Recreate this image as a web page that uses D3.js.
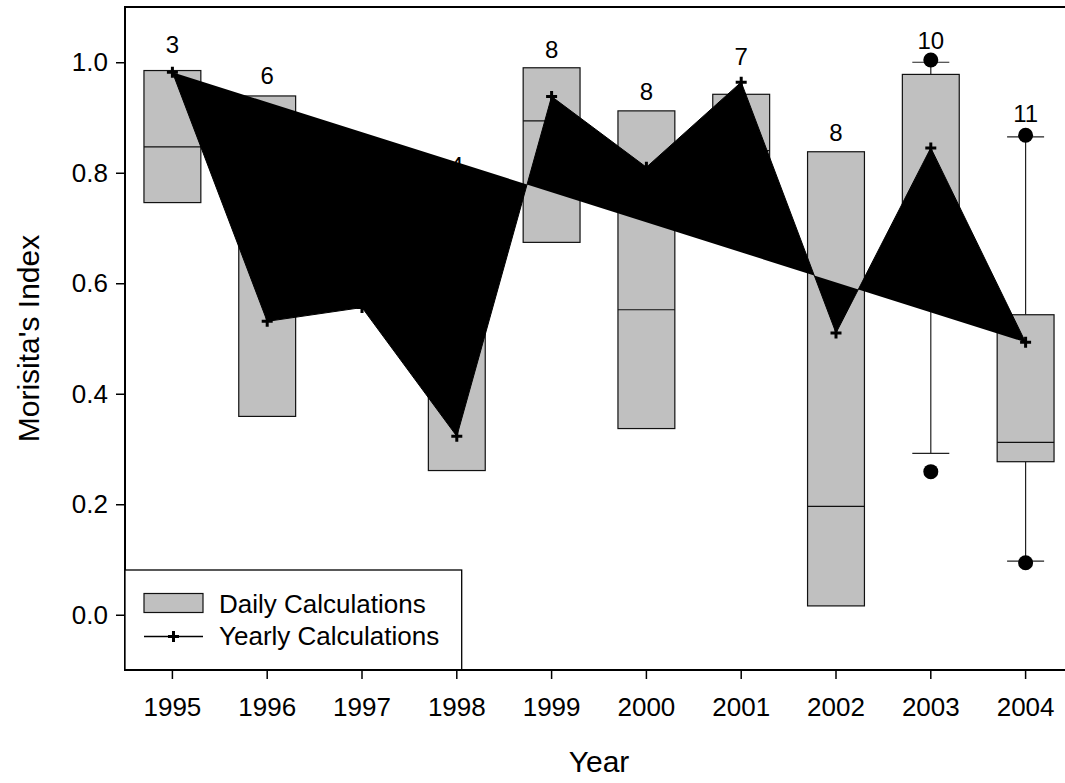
<!DOCTYPE html>
<html>
<head>
<meta charset="utf-8">
<script src="https://cdn.jsdelivr.net/npm/d3@7"></script>
<style>
  body { margin: 0; background: #fff; }
  svg { display: block; font-family: "Liberation Sans", Arial, sans-serif; }
</style>
</head>
<body>
<svg width="1065" height="783"></svg>
<script>
// daily box plot stats per year
let years = [1995, 1996, 1997, 1998, 1999, 2000, 2001, 2002, 2003, 2004];
let counts = [3, 6, 5, 4, 8, 8, 7, 8, 10, 11];
let q1 = [0.746, 0.359, 0.60, 0.261, 0.674, 0.337, 0.72, 0.016, 0.60, 0.277];
let medians = [0.847, 0.76, 0.70, 0.55, 0.894, 0.552, 0.84, 0.196, 0.70, 0.312];
let q3 = [0.985, 0.939, 0.79, 0.764, 0.99, 0.912, 0.942, 0.838, 0.978, 0.543];
let whiskLo = [null, null, null, null, null, null, null, null, 0.292, 0.097];
let whiskHi = [null, null, null, null, null, null, null, null, 1.0, 0.865];
let outliers = [[], [], [], [], [], [], [], [], [1.004, 0.259], [0.868, 0.094]];
let maxVals = [0.997, 0.94, 0.79, 0.777, 0.988, 0.912, 0.975, 0.838, 1.004, 0.872];

// yearly calculation
let yearly = [0.982, 0.531, 0.556, 0.323, 0.938, 0.81, 0.964, 0.51, 0.845, 0.493];

let yTicks = [0, 0.2, 0.4, 0.6, 0.8, 1.0];

let pLeft = 125, pRight = 1073, pTop = 7, pBottom = 670;

let svg = d3.select("svg");

let x = d3.scaleBand().domain(years).range([pLeft, pRight])
	.paddingInner(0.4).paddingOuter(0.2);
let y = d3.scaleLinear().domain([-0.1, 1.1]).range([pBottom, pTop]);

let data = years.map(function(yr, i) {
	return { year: yr, n: counts[i], q1: q1[i], med: medians[i], q3: q3[i],
		lo: whiskLo[i], hi: whiskHi[i], out: outliers[i], max: maxVals[i], yv: yearly[i] };
});

let bw = x.bandwidth();
let cx = function(d) { return x(d.year) + bw / 2; };

// frame
svg.append("rect")
	.attr("x", pLeft).attr("y", pTop)
	.attr("width", pRight - pLeft).attr("height", pBottom - pTop)
	.attr("fill", "none").attr("stroke", "#000").attr("stroke-width", 2);

// n labels
svg.append("g").selectAll("text")
	.data(data).enter().append("text")
	.attr("x", cx)
	.attr("y", function(d) { return y(d.max) - 11; })
	.attr("text-anchor", "middle")
	.attr("font-size", 24)
	.text(function(d) { return d.n; });

// whiskers
let wh = data.filter(function(d) { return d.lo !== null; });
let wg = svg.append("g").attr("stroke", "#222").attr("stroke-width", 1.2);
wh.forEach(function(d) {
	let c = cx(d);
	wg.append("line").attr("x1", c).attr("x2", c).attr("y1", y(d.q3)).attr("y2", y(d.hi));
	wg.append("line").attr("x1", c).attr("x2", c).attr("y1", y(d.q1)).attr("y2", y(d.lo));
	wg.append("line").attr("x1", c - 18.5).attr("x2", c + 18.5).attr("y1", y(d.hi)).attr("y2", y(d.hi));
	wg.append("line").attr("x1", c - 18.5).attr("x2", c + 18.5).attr("y1", y(d.lo)).attr("y2", y(d.lo));
});

// boxes
let boxes = svg.append("g").selectAll("g")
	.data(data).enter().append("g");

boxes.append("rect")
	.attr("x", function(d) { return x(d.year); })
	.attr("y", function(d) { return y(d.q3); })
	.attr("width", bw)
	.attr("height", function(d) { return y(d.q1) - y(d.q3); })
	.attr("fill", "#c0c0c0")
	.attr("stroke", "#111")
	.attr("stroke-width", 1.2);

boxes.append("line")
	.attr("x1", function(d) { return x(d.year); })
	.attr("x2", function(d) { return x(d.year) + bw; })
	.attr("y1", function(d) { return y(d.med); })
	.attr("y2", function(d) { return y(d.med); })
	.attr("stroke", "#111")
	.attr("stroke-width", 1.2);

// outlier dots
data.forEach(function(d) {
	svg.append("g").selectAll("circle")
		.data(d.out).enter().append("circle")
		.attr("cx", cx(d))
		.attr("cy", function(v) { return y(v); })
		.attr("r", 7.5)
		.attr("fill", "#000");
});

// yearly line (filled)
let line = d3.line()
	.x(function(d) { return cx(d); })
	.y(function(d) { return y(d.yv); });

svg.append("path")
	.datum(data)
	.attr("d", line)
	.attr("fill", "#000")
	.attr("stroke", "#000")
	.attr("stroke-width", 1);

let cross = "M-5.5,0H5.5M0,-5.5V5.5";
svg.append("g").selectAll("path")
	.data(data).enter().append("path")
	.attr("d", cross)
	.attr("transform", function(d) { return "translate(" + cx(d) + "," + y(d.yv) + ")"; })
	.attr("stroke", "#000")
	.attr("stroke-width", 3);

// axes
let xAxis = svg.append("g")
	.attr("transform", "translate(0," + pBottom + ")")
	.call(d3.axisBottom(x).tickSize(9).tickPadding(19).tickSizeOuter(0));
let yAxis = svg.append("g")
	.attr("transform", "translate(" + pLeft + ",0)")
	.call(d3.axisLeft(y).tickValues(yTicks).tickFormat(d3.format(".1f"))
		.tickSize(9).tickPadding(8).tickSizeOuter(0));

[xAxis, yAxis].forEach(function(a) {
	a.select(".domain").remove();
	a.selectAll("line").attr("stroke", "#000").attr("stroke-width", 1.5);
	a.selectAll("text").attr("font-size", 26).attr("fill", "#000")
		.attr("font-family", "Liberation Sans, Arial, sans-serif");
});

// legend
let lg = svg.append("g");
lg.append("rect")
	.attr("x", pLeft).attr("y", 570)
	.attr("width", 336.7).attr("height", pBottom - 570)
	.attr("fill", "#fff").attr("stroke", "#000").attr("stroke-width", 1.3);
lg.append("rect")
	.attr("x", 144).attr("y", 593.5).attr("width", 59).attr("height", 19)
	.attr("fill", "#c0c0c0").attr("stroke", "#111").attr("stroke-width", 1.2);
lg.append("text").attr("x", 219).attr("y", 612.5).attr("font-size", 26)
	.text("Daily Calculations");
lg.append("line").attr("x1", 144).attr("x2", 203).attr("y1", 636.5).attr("y2", 636.5)
	.attr("stroke", "#000").attr("stroke-width", 1.5);
lg.append("path").attr("d", cross)
	.attr("transform", "translate(173.5,636.5)")
	.attr("stroke", "#000").attr("stroke-width", 3);
lg.append("text").attr("x", 219).attr("y", 645).attr("font-size", 26)
	.text("Yearly Calculations");

// redraw bottom axis line on top of legend
svg.append("line").attr("x1", pLeft).attr("x2", pRight).attr("y1", pBottom).attr("y2", pBottom)
	.attr("stroke", "#000").attr("stroke-width", 2);

// titles
svg.append("text")
	.attr("x", (pLeft + pRight) / 2).attr("y", 772)
	.attr("text-anchor", "middle").attr("font-size", 30)
	.text("Year");
svg.append("text")
	.attr("transform", "translate(39," + (pTop + pBottom) / 2 + ") rotate(-90)")
	.attr("text-anchor", "middle").attr("font-size", 30)
	.text("Morisita's Index");
</script>
</body>
</html>
